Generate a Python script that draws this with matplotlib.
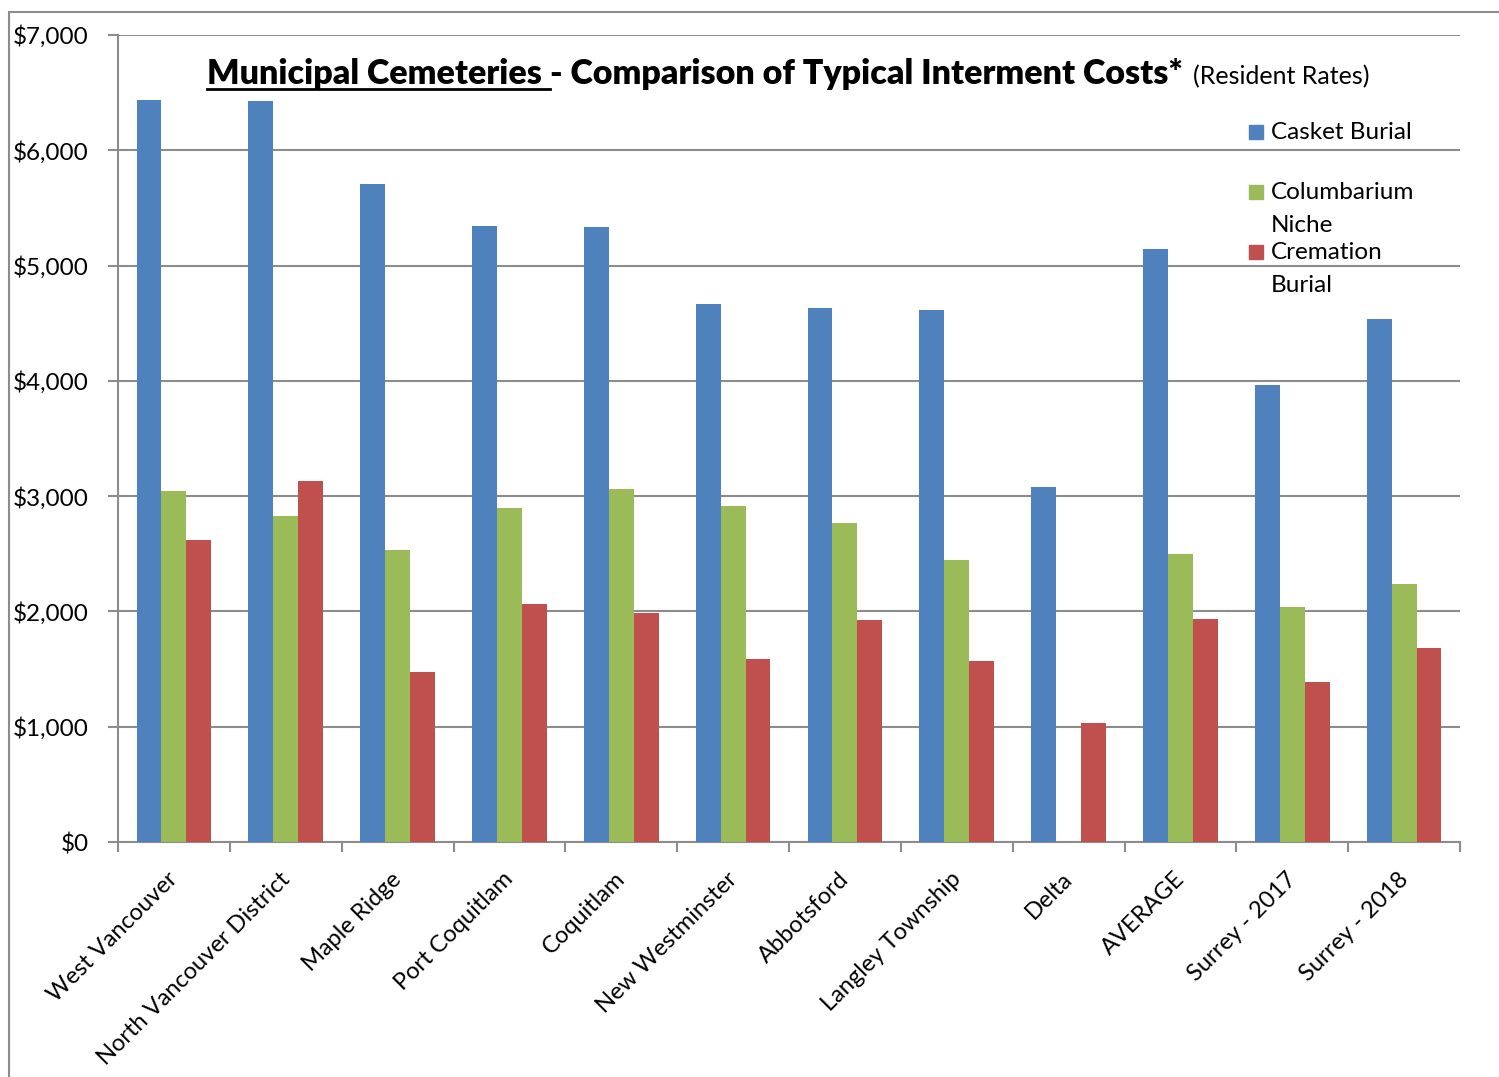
import matplotlib
matplotlib.use("Agg")
import matplotlib.pyplot as plt
import matplotlib.transforms as mtransforms
import numpy as np
from matplotlib.patches import Rectangle
from matplotlib.lines import Line2D
from matplotlib.ticker import FuncFormatter

plt.rcParams['font.family'] = ['Lato', 'DejaVu Sans']

cities = ["West Vancouver", "North Vancouver District", "Maple Ridge", "Port Coquitlam",
          "Coquitlam", "New Westminster", "Abbotsford", "Langley Township", "Delta",
          "AVERAGE", "Surrey - 2017", "Surrey - 2018"]
casket = [6440, 6430, 5710, 5345, 5335, 4665, 4630, 4615, 3080, 5145, 3965, 4535]
niche = [3045, 2830, 2535, 2900, 3060, 2915, 2770, 2450, 0, 2500, 2040, 2240]
cremation = [2620, 3130, 1475, 2065, 1990, 1590, 1925, 1570, 1030, 1935, 1390, 1685]

series_names = ["Casket Burial", "Columbarium\nNiche", "Cremation\nBurial"]
colors = ["#4F81BD", "#9BBB59", "#C0504D"]
grid_c = "#8C8C8C"

W, H = 1499, 1077
fig = plt.figure(figsize=(W / 100, H / 100), dpi=100)

# outer chart frame (left and top edges visible)
fig.patches.append(Rectangle((9 / W, -0.1), 1.2, (H - 12) / H + 0.1, transform=fig.transFigure,
                             fill=False, edgecolor="#8C8C8C", linewidth=1.5))

ax = fig.add_axes([118 / W, 1 - 842 / H, (1460 - 118) / W, (842 - 35) / H])

x = np.arange(len(cities))
w = 1 / 4.5
for k, (vals, c) in enumerate(zip([casket, niche, cremation], colors)):
    ax.bar(x + (k - 1) * w, vals, width=w, color=c, edgecolor="none", zorder=3)

ax.set_xlim(-0.5, len(cities) - 0.5)
ax.set_ylim(0, 7000)
ax.set_yticks(np.arange(0, 7001, 1000))
ax.yaxis.set_major_formatter(FuncFormatter(lambda v, p: "${:,.0f}".format(v)))
ax.grid(axis="y", color=grid_c, linewidth=1.5, zorder=0)
for s in ["top", "right"]:
    ax.spines[s].set_visible(False)
for s in ["left", "bottom"]:
    ax.spines[s].set_color(grid_c)
    ax.spines[s].set_linewidth(1.5)

ax.tick_params(axis="y", length=7, width=1.5, color=grid_c, pad=14, labelsize=17.5)
ax.set_xticks(x)
ax.set_xticklabels(cities, rotation=45, ha="right", va="top", rotation_mode="anchor", fontsize=17)
ax.tick_params(axis="x", which="major", length=0, pad=17)
shift = mtransforms.ScaledTranslation(-5 / 72, -2 / 72, fig.dpi_scale_trans)
for lab in ax.get_xticklabels():
    lab.set_transform(lab.get_transform() + shift)
ax.set_xticks(np.arange(-0.5, len(cities), 1), minor=True)
ax.tick_params(axis="x", which="minor", length=7, width=1.5, color=grid_c)

# legend drawn by hand (no frame, gridlines show through)
leg_y = [132, 192, 252]
for name, c, yy in zip(series_names, colors, leg_y):
    fig.patches.append(Rectangle((1249 / W, 1 - (yy + 7) / H), 14 / W, 14 / H,
                                 transform=fig.transFigure, color=c))
    fig.text(1271 / W, 1 - (yy - 10) / H, name, fontsize=17.5, va="top", ha="left",
             linespacing=1.7)

# title in three pieces
fig.canvas.draw()
r = fig.canvas.get_renderer()
base_y = 1 - 84 / H
t1 = fig.text(207 / W, base_y, "Municipal Cemeteries ", fontsize=24.5, fontweight="heavy",
              va="baseline")
bb1 = t1.get_window_extent(r)
t2 = fig.text(bb1.x1 / W, base_y, "- Comparison of Typical Interment Costs*", fontsize=24.5,
              fontweight="heavy", va="baseline")
bb2 = t2.get_window_extent(r)
fig.text(bb2.x1 / W + 10 / W, base_y, "(Resident Rates)", fontsize=18, va="baseline")
fig.lines.append(Line2D([bb1.x0 / W, bb1.x1 / W], [1 - 89 / H, 1 - 89 / H],
                        transform=fig.transFigure, color="black", linewidth=2))

fig.savefig("out.png", dpi=100)
